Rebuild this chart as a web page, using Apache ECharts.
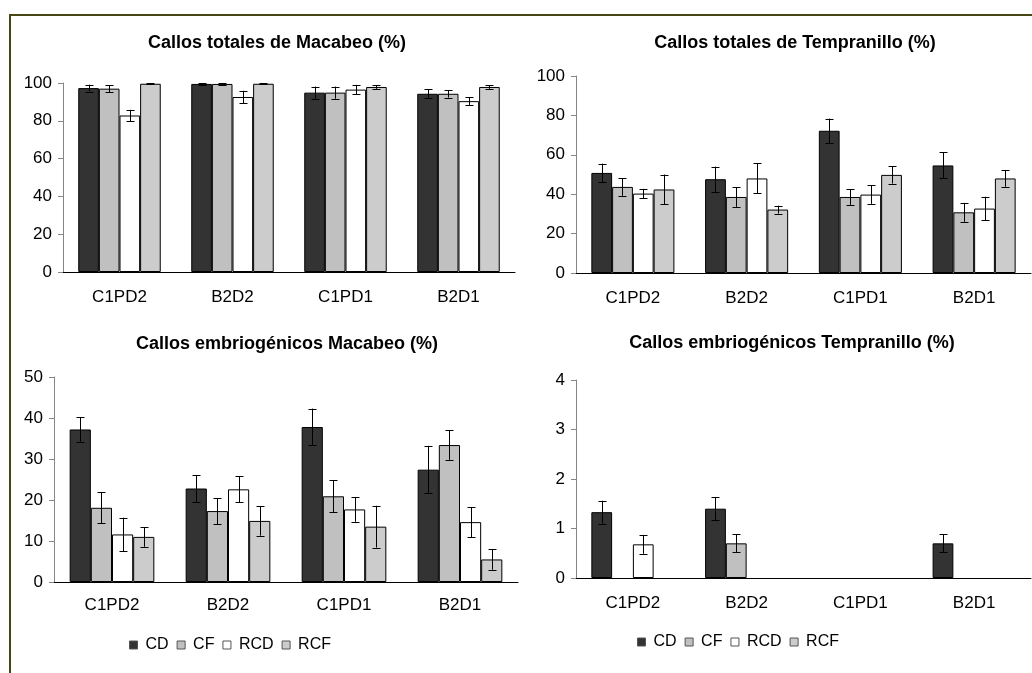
<!DOCTYPE html>
<html>
<head>
<meta charset="utf-8">
<script src="https://cdn.jsdelivr.net/npm/echarts@6/dist/echarts.min.js"></script>
<style>
  html, body { margin: 0; padding: 0; background: #fff; }
  #chart { width: 1032px; height: 673px; }
</style>
</head>
<body>
<div id="chart"></div>
<script>
const categories = ["C1PD2", "B2D2", "C1PD1", "B2D1"];
const seriesNames = ["CD", "CF", "RCD", "RCF"];

// rows: CD, CF, RCD, RCF ; columns: categories
const macTotalVal = [[97.3, 99.5, 94.9, 94.3], [97.0, 99.5, 94.9, 94.3], [82.8, 92.6, 96.5, 90.4], [99.6, 99.6, 97.9, 97.9]];
const macTotalErr = [[1.8, 0.3, 3.2, 2.5], [1.8, 0.3, 3.2, 2.0], [3.0, 3.3, 2.5, 2.0], [0.3, 0.3, 1.0, 1.0]];

const tempTotalVal = [[50.8, 47.6, 72.2, 54.6], [43.7, 38.6, 38.6, 30.8], [40.3, 48.0, 39.8, 32.7], [42.4, 32.2, 49.8, 48.0]];
const tempTotalErr = [[4.7, 6.4, 6.2, 6.6], [4.5, 5.0, 4.0, 4.8], [2.4, 7.6, 4.7, 6.0], [7.6, 2.0, 4.4, 4.2]];

const macEmbVal = [[37.2, 22.8, 37.8, 27.4], [18.1, 17.3, 20.9, 33.4], [11.6, 22.6, 17.7, 14.6], [11.0, 14.9, 13.5, 5.5]];
const macEmbErr = [[3.0, 3.3, 4.5, 5.8], [3.8, 3.2, 3.9, 3.6], [4.1, 3.2, 3.0, 3.7], [2.4, 3.6, 5.1, 2.5]];

const tempEmbVal = [[1.33, 1.4, 0, 0.7], [0, 0.7, 0, 0], [0.68, 0, 0, 0], [0, 0, 0, 0]];
const tempEmbErr = [[0.23, 0.23, 0, 0.18], [0, 0.18, 0, 0], [0.19, 0, 0, 0], [0, 0, 0, 0]];

const titles = [
  "Callos totales de Macabeo (%)",
  "Callos totales de Tempranillo (%)",
  "Callos embriogénicos Macabeo (%)",
  "Callos embriogénicos Tempranillo (%)"
];
const yMax = [100, 100, 50, 4];
const yStep = [20, 20, 10, 1];

const panels = [
  { val: macTotalVal, err: macTotalErr },
  { val: tempTotalVal, err: tempTotalErr },
  { val: macEmbVal, err: macEmbErr },
  { val: tempEmbVal, err: tempEmbErr }
];

const FONT = "'Liberation Sans', Arial, sans-serif";
const barColors = ["#333333", "#c0c0c0", "#ffffff", "#cccccc"];
const catGap = 0.27;

// layout of the four plot areas
const grids = [
  { left: 63, top: 83, width: 452, height: 189 },
  { left: 576, top: 76, width: 455, height: 197 },
  { left: 54, top: 377, width: 464, height: 205 },
  { left: 576, top: 380, width: 455, height: 198 }
];
const titlePos = [[277, 34], [795, 34], [287, 335], [792, 334]];
const labelMargin = [17, 17, 15, 17];

// error bars drawn as I-beams on top of each bar
function errRender(params, api) {
  const cat = api.value(0), k = api.value(1);
  const lo = api.coord([cat, api.value(2)]);
  const hi = api.coord([cat, api.value(3)]);
  const band = api.size([1, 0])[0];
  const gw = band * (1 - catGap), bw = gw / 4;
  const x = Math.round(lo[0] - gw / 2 + (k + 0.5) * bw) + 0.5;
  const style = { stroke: "#000", lineWidth: 1 };
  return {
    type: "group",
    children: [
      { type: "line", shape: { x1: x, y1: lo[1], x2: x, y2: hi[1] }, style },
      { type: "line", shape: { x1: x - 4, y1: Math.round(lo[1]) + 0.5, x2: x + 4, y2: Math.round(lo[1]) + 0.5 }, style },
      { type: "line", shape: { x1: x - 4, y1: Math.round(hi[1]) + 0.5, x2: x + 4, y2: Math.round(hi[1]) + 0.5 }, style }
    ]
  };
}

let series = [];
panels.forEach((p, g) => {
  seriesNames.forEach((name, k) => {
    series.push({
      name: name,
      type: "bar",
      xAxisIndex: g,
      yAxisIndex: g,
      // zero bars are not drawn in the original
      data: p.val[k].map(v => (v === 0 ? null : v)),
      barGap: "0%",
      barCategoryGap: catGap * 100 + "%",
      itemStyle: { color: barColors[k], borderColor: "#000", borderWidth: 1 },
      emphasis: { disabled: true },
      silent: true
    });
  });
  let errData = [];
  p.val.forEach((row, k) => {
    row.forEach((v, i) => {
      const e = p.err[k][i];
      if (e > 0) errData.push([i, k, v - e, v + e]);
    });
  });
  series.push({
    type: "custom",
    xAxisIndex: g,
    yAxisIndex: g,
    renderItem: errRender,
    encode: { x: 0, y: [2, 3] },
    data: errData,
    z: 5,
    silent: true
  });
});

const chart = echarts.init(document.getElementById("chart"));
chart.setOption({
  animation: false,
  backgroundColor: "#fff",
  textStyle: { fontFamily: FONT },
  title: titles.map((t, g) => ({
    text: t,
    left: titlePos[g][0],
    top: titlePos[g][1],
    textAlign: "center",
    padding: 0,
    textStyle: { fontFamily: FONT, fontSize: 18, fontWeight: "bold", color: "#000" }
  })),
  legend: [
    { left: 129, top: 637 },
    { left: 637, top: 634 }
  ].map(pos => ({
    data: seriesNames,
    left: pos.left,
    top: pos.top,
    padding: 0,
    icon: "rect",
    itemWidth: 8,
    itemHeight: 8,
    itemGap: 8,
    selectedMode: false,
    itemStyle: { borderColor: "#555", borderWidth: 1 },
    textStyle: { fontFamily: FONT, fontSize: 16, color: "#000", padding: [0, 0, 0, 3] }
  })),
  grid: grids,
  xAxis: grids.map((gr, g) => ({
    type: "category",
    gridIndex: g,
    data: categories,
    axisLine: { lineStyle: { color: "#000", width: 1 } },
    axisTick: { length: 5, lineStyle: { color: "#000" } },
    axisLabel: { fontFamily: FONT, fontSize: 17, color: "#000", margin: labelMargin[g] }
  })),
  yAxis: grids.map((gr, g) => ({
    type: "value",
    gridIndex: g,
    min: 0,
    max: yMax[g],
    interval: yStep[g],
    splitLine: { show: false },
    axisLine: { show: true, lineStyle: { color: "#868686", width: 1 } },
    axisTick: { show: true, length: 5, lineStyle: { color: "#868686" } },
    axisLabel: { fontFamily: FONT, fontSize: 17, color: "#000", margin: 11 }
  })),
  graphic: [{
    type: "rect",
    shape: { x: 10, y: 15, width: 1100, height: 720 },
    style: { fill: "none", stroke: "#474714", lineWidth: 2 },
    silent: true
  }],
  series: series
});
</script>
</body>
</html>
